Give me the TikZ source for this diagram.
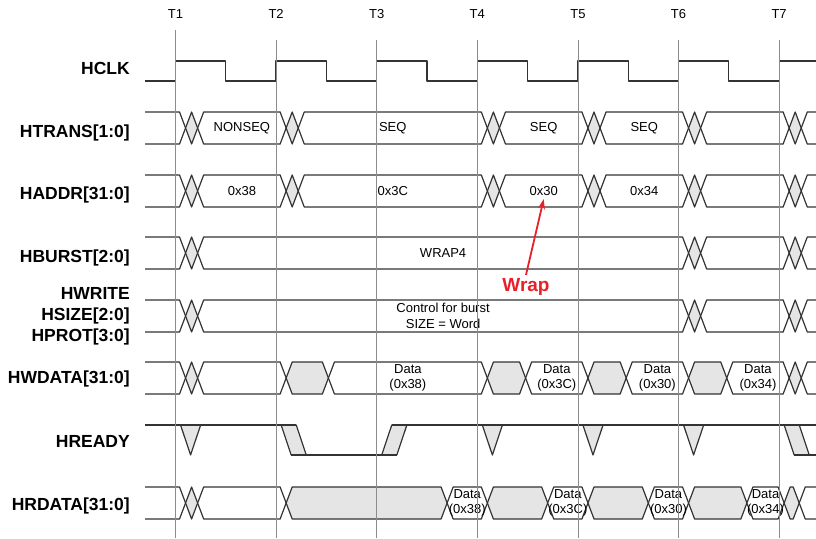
\documentclass[tikz,border=0pt]{standalone}
\usepackage{fontspec}
\setmainfont{Liberation Sans}
\usetikzlibrary{arrows.meta}
\colorlet{busgrey}{black!10}
\definecolor{wrapred}{RGB}{232,32,42}

\begin{document}
\begin{tikzpicture}[x=100.6pt, y=-1pt, font=\fontsize{13}{15.5}\selectfont,
		sig/.style={draw=black!80, line width=1.2pt, line join=round},
		tick/.style={draw=black!45, line width=0.8pt},
		signame/.style={anchor=base east, inner sep=0pt, font=\fontsize{17.5}{21}\selectfont\bfseries},
		val/.style={align=center},
		wraparrow/.style={draw=wrapred, line width=1.8pt, -{Stealth[length=10pt, width=7pt]}}]
		\useasboundingbox (-1.7445, 0) rectangle (6.3668, 538);
		% Signal names.
		\node[signame] (n-hclk) at (-0.4523, 74) {HCLK};
		\node[signame] (n-htrans) at (-0.4523, 137) {HTRANS[1:0]};
		\node[signame] (n-haddr) at (-0.4523, 199) {HADDR[31:0]};
		\node[signame] (n-hburst) at (-0.4523, 262) {HBURST[2:0]};
		\node[signame, anchor=east, align=right] (n-hctrl) at (-0.4523, 316)
			{HWRITE\\HSIZE[2:0]\\HPROT[3:0]};
		\node[signame] (n-hwdata) at (-0.4523, 383) {HWDATA[31:0]};
		\node[signame] (n-hready) at (-0.4523, 447) {HREADY};
		\node[signame] (n-hrdata) at (-0.4523, 510) {HRDATA[31:0]};
		\begin{scope}
			\clip (-0.303, 0) rectangle (6.3668, 538);
			% Clock.
			\draw[sig] (-0.5, 81) \foreach \k in {0, ..., 6} {
				-- (\k, 81) -- (\k, 61) -- (\k + 0.5, 61) -- (\k + 0.5, 81)};
			% Address and control buses.
			\foreach \yt in {112, 175} {
				\pgfmathsetmacro{\ym}{\yt + 16}
				\pgfmathsetmacro{\yb}{\yt + 32}
				\foreach \a/\b/\f in {-1/0.1/white, 0.1/0.22/busgrey, 0.22/1.1/white,
						1.1/1.22/busgrey, 1.22/3.1/white, 3.1/3.22/busgrey, 3.22/4.1/white,
						4.1/4.22/busgrey, 4.22/5.1/white, 5.1/5.22/busgrey, 5.22/6.1/white,
						6.1/6.22/busgrey, 6.22/7.5/white} {
					\filldraw[sig, fill=\f] (\a, \ym) -- (\a + 0.06, \yt) -- (\b - 0.06, \yt)
						-- (\b, \ym) -- (\b - 0.06, \yb) -- (\a + 0.06, \yb) -- cycle;
				}
			}
			\foreach \yt in {237, 300} {
				\pgfmathsetmacro{\ym}{\yt + 16}
				\pgfmathsetmacro{\yb}{\yt + 32}
				\foreach \a/\b/\f in {-1/0.1/white, 0.1/0.22/busgrey, 0.22/5.1/white,
						5.1/5.22/busgrey, 5.22/6.1/white, 6.1/6.22/busgrey, 6.22/7.5/white} {
					\filldraw[sig, fill=\f] (\a, \ym) -- (\a + 0.06, \yt) -- (\b - 0.06, \yt)
						-- (\b, \ym) -- (\b - 0.06, \yb) -- (\a + 0.06, \yb) -- cycle;
				}
			}
			% Write data.
			\foreach \a/\b/\f in {-1/0.1/white, 0.1/0.22/busgrey, 0.22/1.1/white,
					1.1/1.52/busgrey, 1.52/3.1/white, 3.1/3.48/busgrey, 3.48/4.1/white,
					4.1/4.48/busgrey, 4.48/5.1/white, 5.1/5.48/busgrey, 5.48/6.1/white,
					6.1/6.22/busgrey, 6.22/7.5/white} {
				\filldraw[sig, fill=\f] (\a, 378) -- (\a + 0.06, 362) -- (\b - 0.06, 362)
					-- (\b, 378) -- (\b - 0.06, 394) -- (\a + 0.06, 394) -- cycle;
			}
			% Read data.
			\foreach \a/\b/\f in {-1/0.1/white, 0.1/0.22/busgrey, 0.22/1.1/white,
					1.1/2.7/busgrey, 2.7/3.1/white, 3.1/3.7/busgrey, 3.7/4.1/white,
					4.1/4.7/busgrey, 4.7/5.1/white, 5.1/5.68/busgrey, 5.68/6.05/white,
					6.05/6.2/busgrey, 6.2/7.5/white} {
				\filldraw[sig, fill=\f] (\a, 503) -- (\a + 0.06, 487) -- (\b - 0.06, 487)
					-- (\b, 503) -- (\b - 0.06, 519) -- (\a + 0.06, 519) -- cycle;
			}
			% Ready.
			\foreach \k in {0, 3, 4, 5} {
				\filldraw[sig, fill=busgrey] (\k + 0.05, 425) -- (\k + 0.15, 455) -- (\k + 0.25, 425);
			}
			\filldraw[sig, fill=busgrey] (1.05, 425) -- (1.15, 455) -- (1.3, 455) -- (1.2, 425) -- cycle;
			\filldraw[sig, fill=busgrey] (2.05, 455) -- (2.15, 425) -- (2.3, 425) -- (2.2, 455) -- cycle;
			\filldraw[sig, fill=busgrey] (6.05, 425) -- (6.15, 455) -- (6.3, 455) -- (6.2, 425) -- cycle;
			\draw[sig] (-0.5, 425) -- (1.2, 425);
			\draw[sig] (1.15, 455) -- (2.2, 455);
			\draw[sig] (2.15, 425) -- (6.5, 425);
			\draw[sig] (6.15, 455) -- (6.5, 455);
		\end{scope}
		% Bus values.
		\node[val] (v-nonseq) at (0.66, 128) {NONSEQ};
		\node[val] (v-seq1) at (2.16, 128) {SEQ};
		\node[val] (v-seq2) at (3.66, 128) {SEQ};
		\node[val] (v-seq3) at (4.66, 128) {SEQ};
		\node[val] (v-a38) at (0.66, 191) {0x38};
		\node[val] (v-a3c) at (2.16, 191) {0x3C};
		\node[val] (v-a30) at (3.66, 191) {0x30};
		\node[val] (v-a34) at (4.66, 191) {0x34};
		\node[val] (v-wrap4) at (2.66, 253) {WRAP4};
		\node[val] (v-ctrl) at (2.66, 316) {Control for burst\\SIZE = Word};
		\node[val, inner sep=0pt] (w-38) at (2.31, 378) {Data\\(0x38)};
		\node[val, inner sep=0pt] (w-3c) at (3.79, 378) {Data\\(0x3C)};
		\node[val, inner sep=0pt] (w-30) at (4.79, 378) {Data\\(0x30)};
		\node[val, inner sep=0pt] (w-34) at (5.79, 378) {Data\\(0x34)};
		\node[val, inner sep=0pt] (r-38) at (2.9, 503) {Data\\(0x38)};
		\node[val, inner sep=0pt] (r-3c) at (3.9, 503) {Data\\(0x3C)};
		\node[val, inner sep=0pt] (r-30) at (4.9, 503) {Data\\(0x30)};
		\node[val, inner sep=0pt] (r-34) at (5.865, 503) {Data\\(0x34)};
		% Clock edges.
		\foreach \k in {1, ..., 7} {
			\pgfmathsetmacro{\tx}{\k - 1}
			\pgfmathsetmacro{\ys}{\k == 1 ? 30 : 40}
			\node (t\k) at (\tx, 14) {T\k};
			\draw[tick] (\tx, \ys) -- (\tx, 538);
		}
		% Wrapping address.
		\node[text=wrapred, font=\fontsize{19}{21}\selectfont\bfseries] (wrap) at (3.484, 287) {Wrap};
		\draw[wraparrow] (wrap.north) -- (v-a30.south);
	\end{tikzpicture}
\end{document}
